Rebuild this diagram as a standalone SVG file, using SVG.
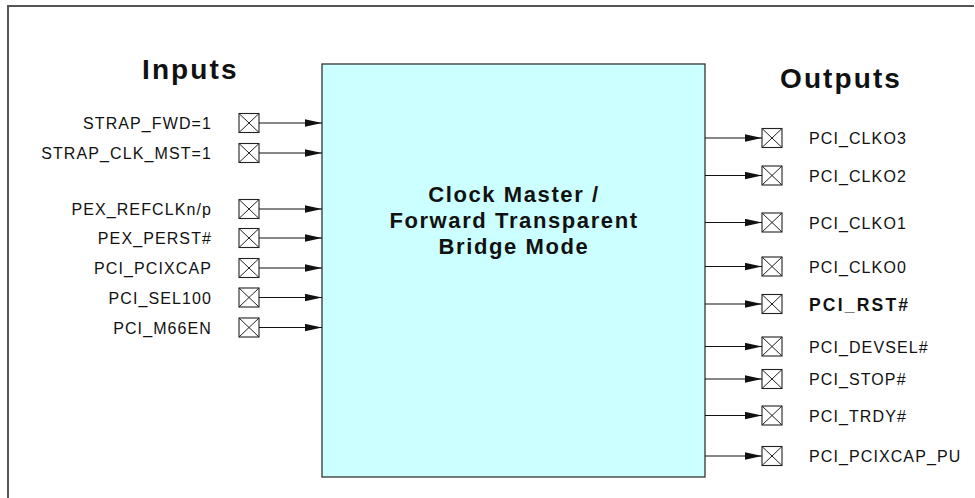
<svg xmlns="http://www.w3.org/2000/svg" width="975" height="498" viewBox="0 0 975 498">
<style>
.frame{fill:none;stroke:#555;stroke-width:2}
.main{fill:#CCFFFF;stroke:#333;stroke-width:1.3}
.pin{fill:#fff;stroke:#222;stroke-width:1.1}
.x{stroke:#222;stroke-width:1;fill:none}
.lbl{font-family:"Liberation Sans",Arial,sans-serif;font-size:16px;letter-spacing:1.1px;fill:#111}
.lblb{font-family:"Liberation Sans",Arial,sans-serif;font-size:17.5px;letter-spacing:2.2px;fill:#111;font-weight:bold}
.hdr{font-family:"Liberation Sans",Arial,sans-serif;font-size:28px;font-weight:bold;letter-spacing:2.1px;fill:#111}
.ctr{font-family:"Liberation Sans",Arial,sans-serif;font-size:22px;font-weight:bold;letter-spacing:1.6px;fill:#111;text-anchor:middle}
.wire{stroke:#111;stroke-width:1.2;fill:none}
</style>
<defs>
<marker id="ah" markerUnits="userSpaceOnUse" markerWidth="17" markerHeight="8" refX="17" refY="4" orient="auto">
<path d="M0,0.3 L17,4 L0,7.7 z" fill="#111"/>
</marker>
<g id="xbox"><rect class="pin" x="0" y="0" width="20" height="19"/><path class="x" d="M0,0 L20,19 M20,0 L0,19"/></g>
</defs>
<rect width="975" height="498" fill="#fff"/>
<path class="frame" d="M8,498 L8,6 L974,6"/>
<text class="hdr" x="142" y="79">Inputs</text>
<text class="hdr" x="780" y="88">Outputs</text>
<g id="main">
<rect class="main" x="322" y="64" width="383" height="413"/>
<text class="ctr" x="514" y="202">Clock Master /</text>
<text class="ctr" x="514" y="228">Forward Transparent</text>
<text class="ctr" x="514" y="254">Bridge Mode</text>
</g>
<g id="in1"><use href="#xbox" x="239" y="113.5"/><text class="lbl" x="212" y="129" text-anchor="end">STRAP_FWD=1</text></g>
<g id="in2"><use href="#xbox" x="239" y="143.5"/><text class="lbl" x="212" y="159" text-anchor="end">STRAP_CLK_MST=1</text></g>
<g id="in3"><use href="#xbox" x="239" y="199.5"/><text class="lbl" x="212" y="215" text-anchor="end">PEX_REFCLKn/p</text></g>
<g id="in4"><use href="#xbox" x="239" y="228.5"/><text class="lbl" x="212" y="244" text-anchor="end">PEX_PERST#</text></g>
<g id="in5"><use href="#xbox" x="239" y="258.5"/><text class="lbl" x="212" y="274" text-anchor="end">PCI_PCIXCAP</text></g>
<g id="in6"><use href="#xbox" x="239" y="288"/><text class="lbl" x="212" y="303.5" text-anchor="end">PCI_SEL100</text></g>
<g id="in7"><use href="#xbox" x="239" y="318"/><text class="lbl" x="212" y="333.5" text-anchor="end">PCI_M66EN</text></g>
<g id="out1"><use href="#xbox" x="762" y="128.5"/><text class="lbl" x="809" y="144">PCI_CLKO3</text></g>
<g id="out2"><use href="#xbox" x="762" y="166"/><text class="lbl" x="809" y="181.5">PCI_CLKO2</text></g>
<g id="out3"><use href="#xbox" x="762" y="213"/><text class="lbl" x="809" y="228.5">PCI_CLKO1</text></g>
<g id="out4"><use href="#xbox" x="762" y="257"/><text class="lbl" x="809" y="272.5">PCI_CLKO0</text></g>
<g id="out5"><use href="#xbox" x="762" y="294.5"/><text class="lblb" x="809" y="310.5">PCI_RST#</text></g>
<g id="out6"><use href="#xbox" x="762" y="337"/><text class="lbl" x="809" y="352.5">PCI_DEVSEL#</text></g>
<g id="out7"><use href="#xbox" x="762" y="369.5"/><text class="lbl" x="809" y="385">PCI_STOP#</text></g>
<g id="out8"><use href="#xbox" x="762" y="406"/><text class="lbl" x="809" y="421.5">PCI_TRDY#</text></g>
<g id="out9"><use href="#xbox" x="762" y="446.5"/><text class="lbl" x="809" y="462">PCI_PCIXCAP_PU</text></g>
<g id="connectors">
<path class="wire" marker-end="url(#ah)" d="M259,123 H322"/>
<path class="wire" marker-end="url(#ah)" d="M259,153 H322"/>
<path class="wire" marker-end="url(#ah)" d="M259,209 H322"/>
<path class="wire" marker-end="url(#ah)" d="M259,238 H322"/>
<path class="wire" marker-end="url(#ah)" d="M259,268 H322"/>
<path class="wire" marker-end="url(#ah)" d="M259,297.5 H322"/>
<path class="wire" marker-end="url(#ah)" d="M259,327.5 H322"/>
<path class="wire" marker-end="url(#ah)" d="M705,138 H762"/>
<path class="wire" marker-end="url(#ah)" d="M705,175.5 H762"/>
<path class="wire" marker-end="url(#ah)" d="M705,222.5 H762"/>
<path class="wire" marker-end="url(#ah)" d="M705,266.5 H762"/>
<path class="wire" marker-end="url(#ah)" d="M705,304 H762"/>
<path class="wire" marker-end="url(#ah)" d="M705,346.5 H762"/>
<path class="wire" marker-end="url(#ah)" d="M705,379 H762"/>
<path class="wire" marker-end="url(#ah)" d="M705,415.5 H762"/>
<path class="wire" marker-end="url(#ah)" d="M705,456 H762"/>
</g>
</svg>
